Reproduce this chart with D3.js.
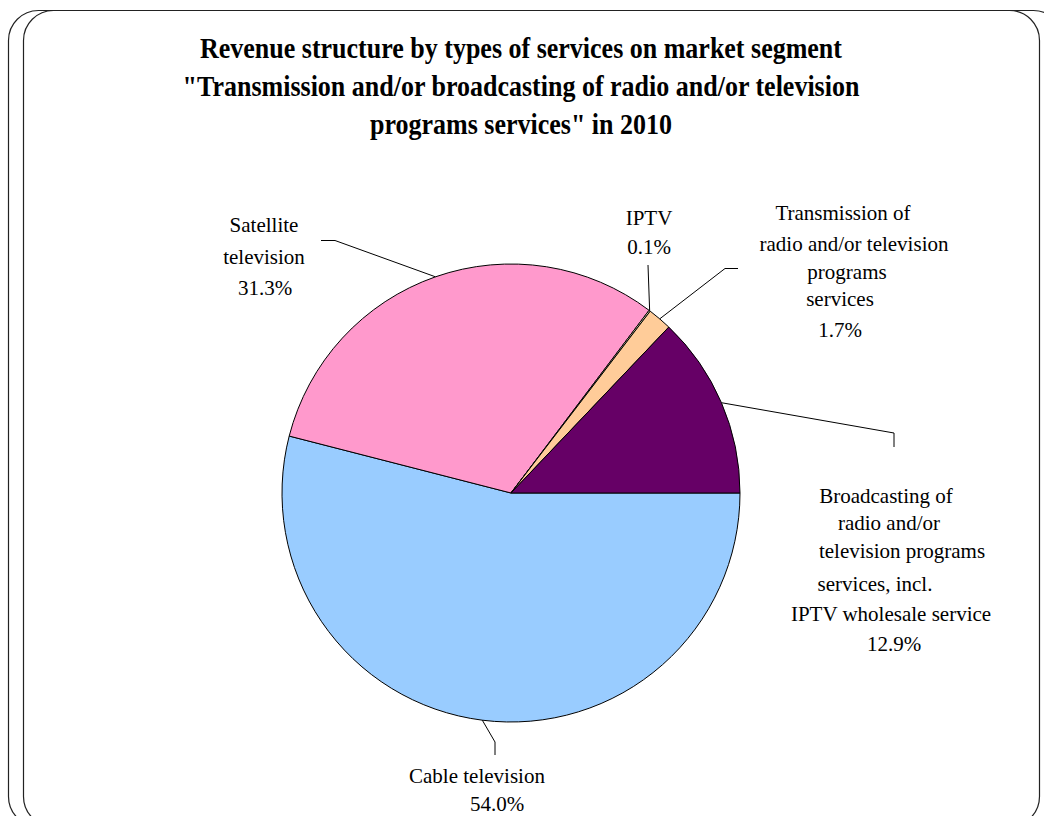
<!DOCTYPE html>
<html>
<head>
<meta charset="utf-8">
<script src="https://cdn.jsdelivr.net/npm/d3@7/dist/d3.min.js"></script>
<style>
  html, body { margin: 0; padding: 0; background: #fff; }
  svg { display: block; }
</style>
</head>
<body>
<svg id="chart" width="1044" height="816"></svg>
<script>
// Revenue shares by service type, 2010 (percent)
const categories = [
  "Cable television",
  "Satellite television",
  "IPTV",
  "Transmission of radio and/or television programs services",
  "Broadcasting of radio and/or television programs services, incl. IPTV wholesale service"
];
const shares = [54.0, 31.3, 0.1, 1.7, 12.9];
const sliceColors = ["#99CCFF", "#FF99CC", "#FFFFCC", "#FFCC99", "#660066"];

// Label text lines, as wrapped on the chart
const labelLines = [
  ["Cable television", "54.0%"],
  ["Satellite", "television", "31.3%"],
  ["IPTV", "0.1%"],
  ["Transmission of", "radio and/or television", "programs", "services", "1.7%"],
  ["Broadcasting of", "radio and/or", "television programs", "services, incl.", "IPTV wholesale service", "12.9%"]
];

const titleLines = [
  "Revenue structure by types of services on market segment",
  "\"Transmission and/or broadcasting of radio and/or television",
  "programs services\" in 2010"
];

// ---- layout ----
const cx = 511, cy = 493, R = 229;

// Per-label placement: line centres and baselines, leader elbow and end
const labelLayout = [
  { xs: [477, 497], ys: [783, 811], leader: [[495, 742], [495, 755]] },
  { xs: [264, 264, 265], ys: [232, 264, 295], leader: [[335, 240.5], [321, 240.5]] },
  { xs: [649, 649], ys: [225, 254], leader: [[648, 265]] },
  { xs: [843, 854, 847, 840, 840], ys: [220, 251, 279, 306, 337], leader: [[725, 268.5], [738, 268.5]] },
  { xs: [886, 889, 902, 875, 891, 894], ys: [503, 530, 558, 591, 621, 651], leader: [[894, 433], [894, 447]] }
];

const svg = d3.select("#chart");

// Slide frame: two overlapping rounded rectangles
svg.append("rect")
  .attr("x", 8.5).attr("y", 10.5).attr("width", 1031).attr("height", 816)
  .attr("rx", 30).attr("ry", 30)
  .attr("fill", "none").attr("stroke", "#222").attr("stroke-width", 1.2);
svg.append("rect")
  .attr("x", 23.5).attr("y", 10.5).attr("width", 1040).attr("height", 816)
  .attr("rx", 30).attr("ry", 30)
  .attr("fill", "none").attr("stroke", "#222").attr("stroke-width", 1.2);

// Title: bold serif, slightly tall glyphs
titleLines.forEach((t, i) => {
  svg.append("text")
    .attr("text-anchor", "middle")
    .attr("transform", `translate(521,${58 + i * 38}) scale(1,1.12)`)
    .attr("font-family", "'Liberation Serif', 'Times New Roman', serif")
    .attr("font-weight", "bold")
    .attr("font-size", 26)
    .attr("fill", "#000")
    .text(t);
});

// Pie, starting at 3 o'clock and running clockwise
const pie = d3.pie()
  .sort(null)
  .value(d => d)
  .startAngle(Math.PI / 2)
  .endAngle(Math.PI / 2 + 2 * Math.PI);
const arcs = pie(shares);
const arc = d3.arc().innerRadius(0).outerRadius(R);

const g = svg.append("g").attr("transform", `translate(${cx},${cy})`);
g.selectAll("path.slice")
  .data(arcs)
  .join("path")
  .attr("class", "slice")
  .attr("d", arc)
  .attr("fill", (d, i) => sliceColors[i])
  .attr("stroke", "#000")
  .attr("stroke-width", 1);

// Leader lines from the mid-angle point on the rim to each label
const line = d3.line();
arcs.forEach((a, i) => {
  const mid = (a.startAngle + a.endAngle) / 2;
  const rim = [cx + R * Math.sin(mid), cy - R * Math.cos(mid)];
  const pts = [rim].concat(labelLayout[i].leader);
  svg.append("path")
    .attr("d", line(pts))
    .attr("fill", "none")
    .attr("stroke", "#000")
    .attr("stroke-width", 1);
});

// Labels
labelLines.forEach((lines, i) => {
  const L = labelLayout[i];
  const t = svg.append("text")
    .attr("text-anchor", "middle")
    .attr("font-family", "'Liberation Serif', 'Times New Roman', serif")
    .attr("font-size", 21)
    .attr("fill", "#000");
  lines.forEach((s, j) => {
    t.append("tspan").attr("x", L.xs[j]).attr("y", L.ys[j]).text(s);
  });
});
</script>
</body>
</html>
